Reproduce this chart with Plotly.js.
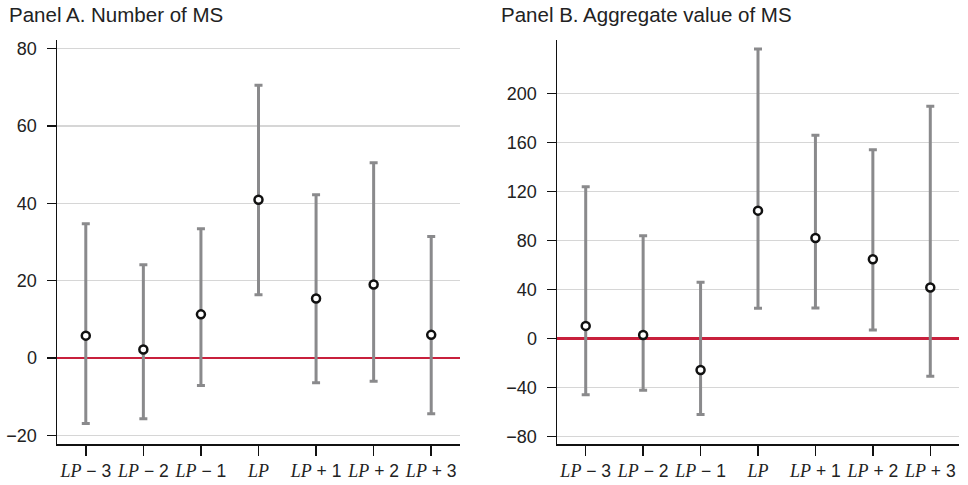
<!DOCTYPE html>
<html>
<head>
<meta charset="utf-8">
<script src="https://cdn.plot.ly/plotly-3.0.1.min.js"></script>
<style>html,body{margin:0;padding:0;background:#fff;}#chart{width:968px;height:485px;}</style>
</head>
<body>
<div id="chart"></div>
<script>
const categories = ["LP-3", "LP-2", "LP-1", "LP", "LP+1", "LP+2", "LP+3"];
const tickLabels = [
  "<i>LP</i> − 3", "<i>LP</i> − 2", "<i>LP</i> − 1", "<i>LP</i>",
  "<i>LP</i> + 1", "<i>LP</i> + 2", "<i>LP</i> + 3"
];
// Panel A: Number of MS
const countEst   = [5.8, 2.2, 11.3, 40.9, 15.4, 19.0, 6.0];
const countUpper = [34.7, 24.1, 33.4, 70.5, 42.2, 50.5, 31.4];
const countLower = [-16.9, -15.7, -7.1, 16.4, -6.4, -6.0, -14.4];
// Panel B: Aggregate value of MS
const valueEst   = [10.1, 2.7, -25.9, 104.2, 81.9, 64.5, 41.4];
const valueUpper = [123.8, 83.8, 45.7, 236.2, 165.7, 154.0, 189.4];
const valueLower = [-46.0, -42.4, -62.3, 24.5, 24.8, 6.8, -31.0];
const yTicksA = [-20, 0, 20, 40, 60, 80];
const yTicksB = [-80, -40, 0, 40, 80, 120, 160, 200];

const serif = "Liberation Serif, DejaVu Serif, serif";
const sans = "Liberation Sans, Arial, sans-serif";
const ticktextX = tickLabels.map(t => t.replace(/<i>LP<\/i>/, `<span style="font-family:${serif};font-size:18px"><i>LP</i></span>`));

function trace(est, up, lo, xa, ya) {
  return {
    type: 'scatter', mode: 'markers', x: categories, y: est, xaxis: xa, yaxis: ya,
    marker: {symbol: 'circle', size: 8, color: '#ffffff', line: {color: '#111111', width: 2.5}},
    error_y: {type: 'data', symmetric: false,
      array: up.map((u, i) => u - est[i]),
      arrayminus: lo.map((l, i) => est[i] - l),
      color: '#8a8a8c', thickness: 3, width: 4},
    showlegend: false, hoverinfo: 'skip'
  };
}

const xbase = {
  type: 'category', range: [-0.5, 6.5], showgrid: false, zeroline: false,
  showline: true, linecolor: '#111', linewidth: 1.5,
  ticks: 'outside', ticklen: 10, tickwidth: 1.5, tickcolor: '#111',
  tickvals: categories, ticktext: ticktextX,
  tickfont: {family: sans, size: 17.5, color: '#222'}, fixedrange: true
};
const ybase = {
  showgrid: true, gridcolor: '#d6d6d6', gridwidth: 1.2,
  zeroline: true, zerolinecolor: '#c8203c', zerolinewidth: 2.5,
  showline: true, linecolor: '#111', linewidth: 1.5,
  ticks: 'outside', ticklen: 9, tickwidth: 1.5, tickcolor: '#111',
  tickfont: {family: sans, size: 18, color: '#222'}, ticklabelstandoff: 6, fixedrange: true
};

const layout = {
  width: 968, height: 485,
  margin: {l: 0, r: 0, t: 40, b: 41},
  paper_bgcolor: '#fff', plot_bgcolor: '#fff',
  xaxis: Object.assign({}, xbase, {domain: [57/968, 460/968], anchor: 'y'}),
  yaxis: Object.assign({}, ybase, {range: [-22.2, 82.2], tickvals: yTicksA, anchor: 'x'}),
  xaxis2: Object.assign({}, xbase, {domain: [557/968, 959/968], anchor: 'y2'}),
  yaxis2: Object.assign({}, ybase, {range: [-86.3, 243.5], tickvals: yTicksB, anchor: 'x2'}),
  annotations: [
    {text: 'Panel A. Number of MS', xref: 'paper', yref: 'paper', x: 7/968, y: (444-15)/404,
     xanchor: 'left', yanchor: 'middle', showarrow: false, font: {family: sans, size: 20.5, color: '#222'}},
    {text: 'Panel B. Aggregate value of MS', xref: 'paper', yref: 'paper', x: 499/968, y: (444-15)/404,
     xanchor: 'left', yanchor: 'middle', showarrow: false, font: {family: sans, size: 20.5, color: '#222'}}
  ]
};

Plotly.newPlot('chart', [
  trace(countEst, countUpper, countLower, 'x', 'y'),
  trace(valueEst, valueUpper, valueLower, 'x2', 'y2')
], layout, {displayModeBar: false, staticPlot: true});
</script>
</body>
</html>
